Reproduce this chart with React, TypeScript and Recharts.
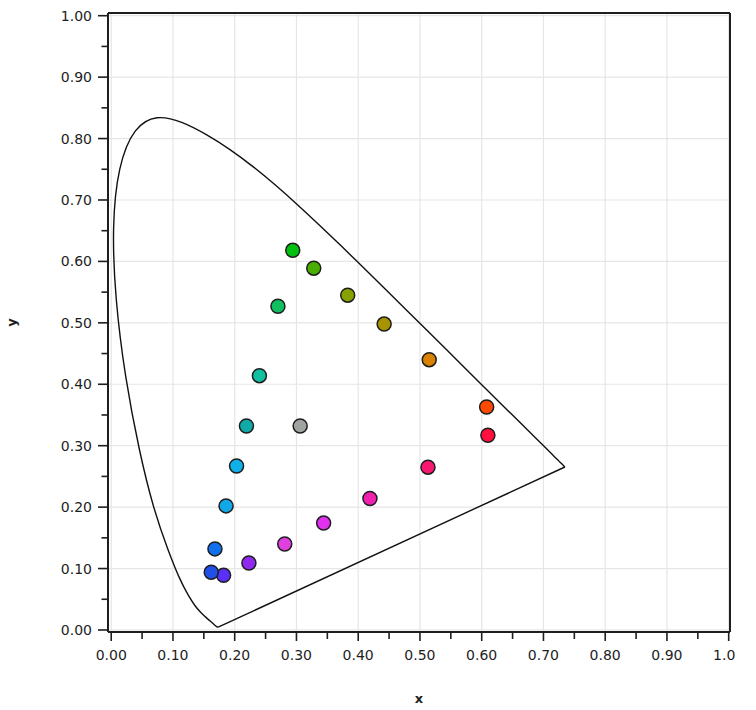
import React from 'react';
import {
  ComposedChart,
  Scatter,
  Line,
  XAxis,
  YAxis,
  CartesianGrid,
  ReferenceLine,
} from 'recharts';

// CIE 1931 spectral locus, 380..700 nm every 5 nm
const LOCUS_X = [
  0.1741, 0.174, 0.1738, 0.1736, 0.1733, 0.173, 0.1726, 0.1721, 0.1714, 0.1703,
  0.1689, 0.1669, 0.1644, 0.1611, 0.1566, 0.151, 0.144, 0.1355, 0.1241, 0.1096,
  0.0913, 0.0687, 0.0454, 0.0235, 0.0082, 0.0039, 0.0139, 0.0389, 0.0743, 0.1142,
  0.1547, 0.1929, 0.2296, 0.2658, 0.3016, 0.3373, 0.3731, 0.4087, 0.4441, 0.4788,
  0.5125, 0.5448, 0.5752, 0.6029, 0.627, 0.6482, 0.6658, 0.6801, 0.6915, 0.7006,
  0.7079, 0.714, 0.719, 0.723, 0.726, 0.7283, 0.73, 0.7311, 0.732, 0.7327,
  0.7334, 0.734, 0.7344, 0.7346, 0.7347,
];
const LOCUS_Y = [
  0.005, 0.005, 0.0049, 0.0049, 0.0048, 0.0048, 0.0048, 0.0048, 0.0051, 0.0058,
  0.0069, 0.0086, 0.0109, 0.0138, 0.0177, 0.0227, 0.0297, 0.0399, 0.0578, 0.0868,
  0.1327, 0.2007, 0.295, 0.4127, 0.5384, 0.6548, 0.7502, 0.812, 0.8338, 0.8262,
  0.8059, 0.7816, 0.7543, 0.7243, 0.6923, 0.6589, 0.6245, 0.5896, 0.5547, 0.5202,
  0.4866, 0.4544, 0.4242, 0.3965, 0.3725, 0.3514, 0.334, 0.3197, 0.3083, 0.2993,
  0.292, 0.2859, 0.2809, 0.277, 0.274, 0.2717, 0.27, 0.2689, 0.268, 0.2673,
  0.2666, 0.266, 0.2656, 0.2654, 0.2653,
];

// measured colour samples
const POINT_X = [
  0.294, 0.328, 0.383, 0.442, 0.515, 0.608, 0.61, 0.513, 0.419, 0.344, 0.281,
  0.223, 0.182, 0.162, 0.168, 0.186, 0.203, 0.219, 0.24, 0.27, 0.306,
];
const POINT_Y = [
  0.618, 0.589, 0.545, 0.498, 0.44, 0.363, 0.317, 0.265, 0.214, 0.174, 0.14,
  0.109, 0.089, 0.094, 0.132, 0.202, 0.267, 0.332, 0.414, 0.527, 0.332,
];
const POINT_COLORS = [
  '#00c010', '#4aae00', '#88a000', '#a89400', '#d98200', '#ff4a00', '#ff1040',
  '#f81870', '#f020b0', '#e030f0', '#e040e0', '#9028f0', '#5a30f8', '#2050e8',
  '#1070f0', '#10a8e8', '#10b0e8', '#10aaa8', '#10c0a0', '#10c060', '#a0a4a0',
];

const TICKS = [
  0, 0.05, 0.1, 0.15, 0.2, 0.25, 0.3, 0.35, 0.4, 0.45, 0.5,
  0.55, 0.6, 0.65, 0.7, 0.75, 0.8, 0.85, 0.9, 0.95, 1,
];
const GRID = [0, 0.1, 0.2, 0.3, 0.4, 0.5, 0.6, 0.7, 0.8, 0.9, 1];

const X_DOMAIN = [-0.0052, 1.0021];
const Y_DOMAIN = [-0.0033, 1.0044];

const locus = LOCUS_X.map((x, i) => ({ x, y: LOCUS_Y[i] }));
// line of purples: closes the locus from 700 nm back to 380 nm
const purples = [locus[locus.length - 1], locus[0]];
const points = POINT_X.map((x, i) => ({ x, y: POINT_Y[i], color: POINT_COLORS[i] }));

const INK = '#1e1e1e';
const FONT = '"DejaVu Sans", Verdana, sans-serif';

const isMajor = (v: number) => Math.abs(v * 10 - Math.round(v * 10)) < 1e-6;

const XTick = (props: any) => {
  const { x, y, payload } = props;
  const axisY = y - 6;
  const major = isMajor(payload.value);
  return (
    <g>
      <line x1={x} x2={x} y1={axisY + 1} y2={axisY + (major ? 9 : 7)} stroke={INK} strokeWidth={1.6} />
      {major && (
        <text x={x} y={axisY + 28} textAnchor="middle" fontSize={14} fill={INK} fontFamily={FONT}>
          {payload.value.toFixed(2)}
        </text>
      )}
    </g>
  );
};

const YTick = (props: any) => {
  const { x, y, payload } = props;
  const axisX = x + 10;
  const major = isMajor(payload.value);
  return (
    <g>
      <line x1={axisX - (major ? 10 : 6.5)} x2={axisX - 1} y1={y} y2={y} stroke={INK} strokeWidth={1.6} />
      {major && (
        <text x={axisX - 16} y={y + 5} textAnchor="end" fontSize={14} fill={INK} fontFamily={FONT}>
          {payload.value.toFixed(2)}
        </text>
      )}
    </g>
  );
};

const Dot = (props: any) => {
  const { cx, cy, payload } = props;
  return <circle cx={cx} cy={cy} r={7} fill={payload.color} stroke={INK} strokeWidth={1.5} />;
};

export default function App() {
  return (
    <div style={{ position: 'absolute', left: 0, top: 0, background: '#fff', fontFamily: FONT }}>
      <ComposedChart width={735} height={710} margin={{ top: 13, right: 5, bottom: 0, left: 0 }}>
        <CartesianGrid
          stroke="#e6e6e6"
          strokeWidth={1.2}
          horizontalValues={GRID}
          verticalValues={GRID}
        />
        <XAxis
          type="number"
          dataKey="x"
          domain={X_DOMAIN}
          ticks={TICKS}
          interval={0}
          height={78}
          tickSize={6}
          tickMargin={0}
          tickLine={false}
          tick={<XTick />}
          axisLine={{ stroke: INK, strokeWidth: 2 }}
          allowDataOverflow
          label={{
            content: (p: any) => {
              const vb = p.viewBox || {};
              return (
                <text
                  x={(vb.x ?? 108) + (vb.width ?? 622) / 2}
                  y={703}
                  textAnchor="middle"
                  fontSize={13}
                  fontWeight="bold"
                  fill={INK}
                  fontFamily={FONT}
                >
                  x
                </text>
              );
            },
          }}
        />
        <YAxis
          type="number"
          dataKey="y"
          domain={Y_DOMAIN}
          ticks={TICKS}
          interval={0}
          width={108}
          tickSize={10}
          tickMargin={0}
          tickLine={false}
          tick={<YTick />}
          axisLine={{ stroke: INK, strokeWidth: 2 }}
          allowDataOverflow
          label={{
            content: (p: any) => {
              const vb = p.viewBox || {};
              const cy = (vb.y ?? 13) + (vb.height ?? 619) / 2;
              return (
                <text
                  x={16}
                  y={cy}
                  textAnchor="middle"
                  fontSize={13}
                  fontWeight="bold"
                  fill={INK}
                  fontFamily={FONT}
                  transform={`rotate(-90 16 ${cy})`}
                >
                  y
                </text>
              );
            },
          }}
        />
        <ReferenceLine x={X_DOMAIN[1]} stroke={INK} strokeWidth={2} ifOverflow="visible" />
        <ReferenceLine y={Y_DOMAIN[1]} stroke={INK} strokeWidth={2} ifOverflow="visible" />
        <Line
          data={locus}
          dataKey="y"
          type="natural"
          stroke="#111"
          strokeWidth={1.4}
          dot={false}
          activeDot={false}
          isAnimationActive={false}
        />
        <Line
          data={purples}
          dataKey="y"
          type="linear"
          stroke="#111"
          strokeWidth={1.4}
          dot={false}
          activeDot={false}
          isAnimationActive={false}
        />
        <Scatter data={points} dataKey="y" shape={<Dot />} isAnimationActive={false} />
      </ComposedChart>
    </div>
  );
}
